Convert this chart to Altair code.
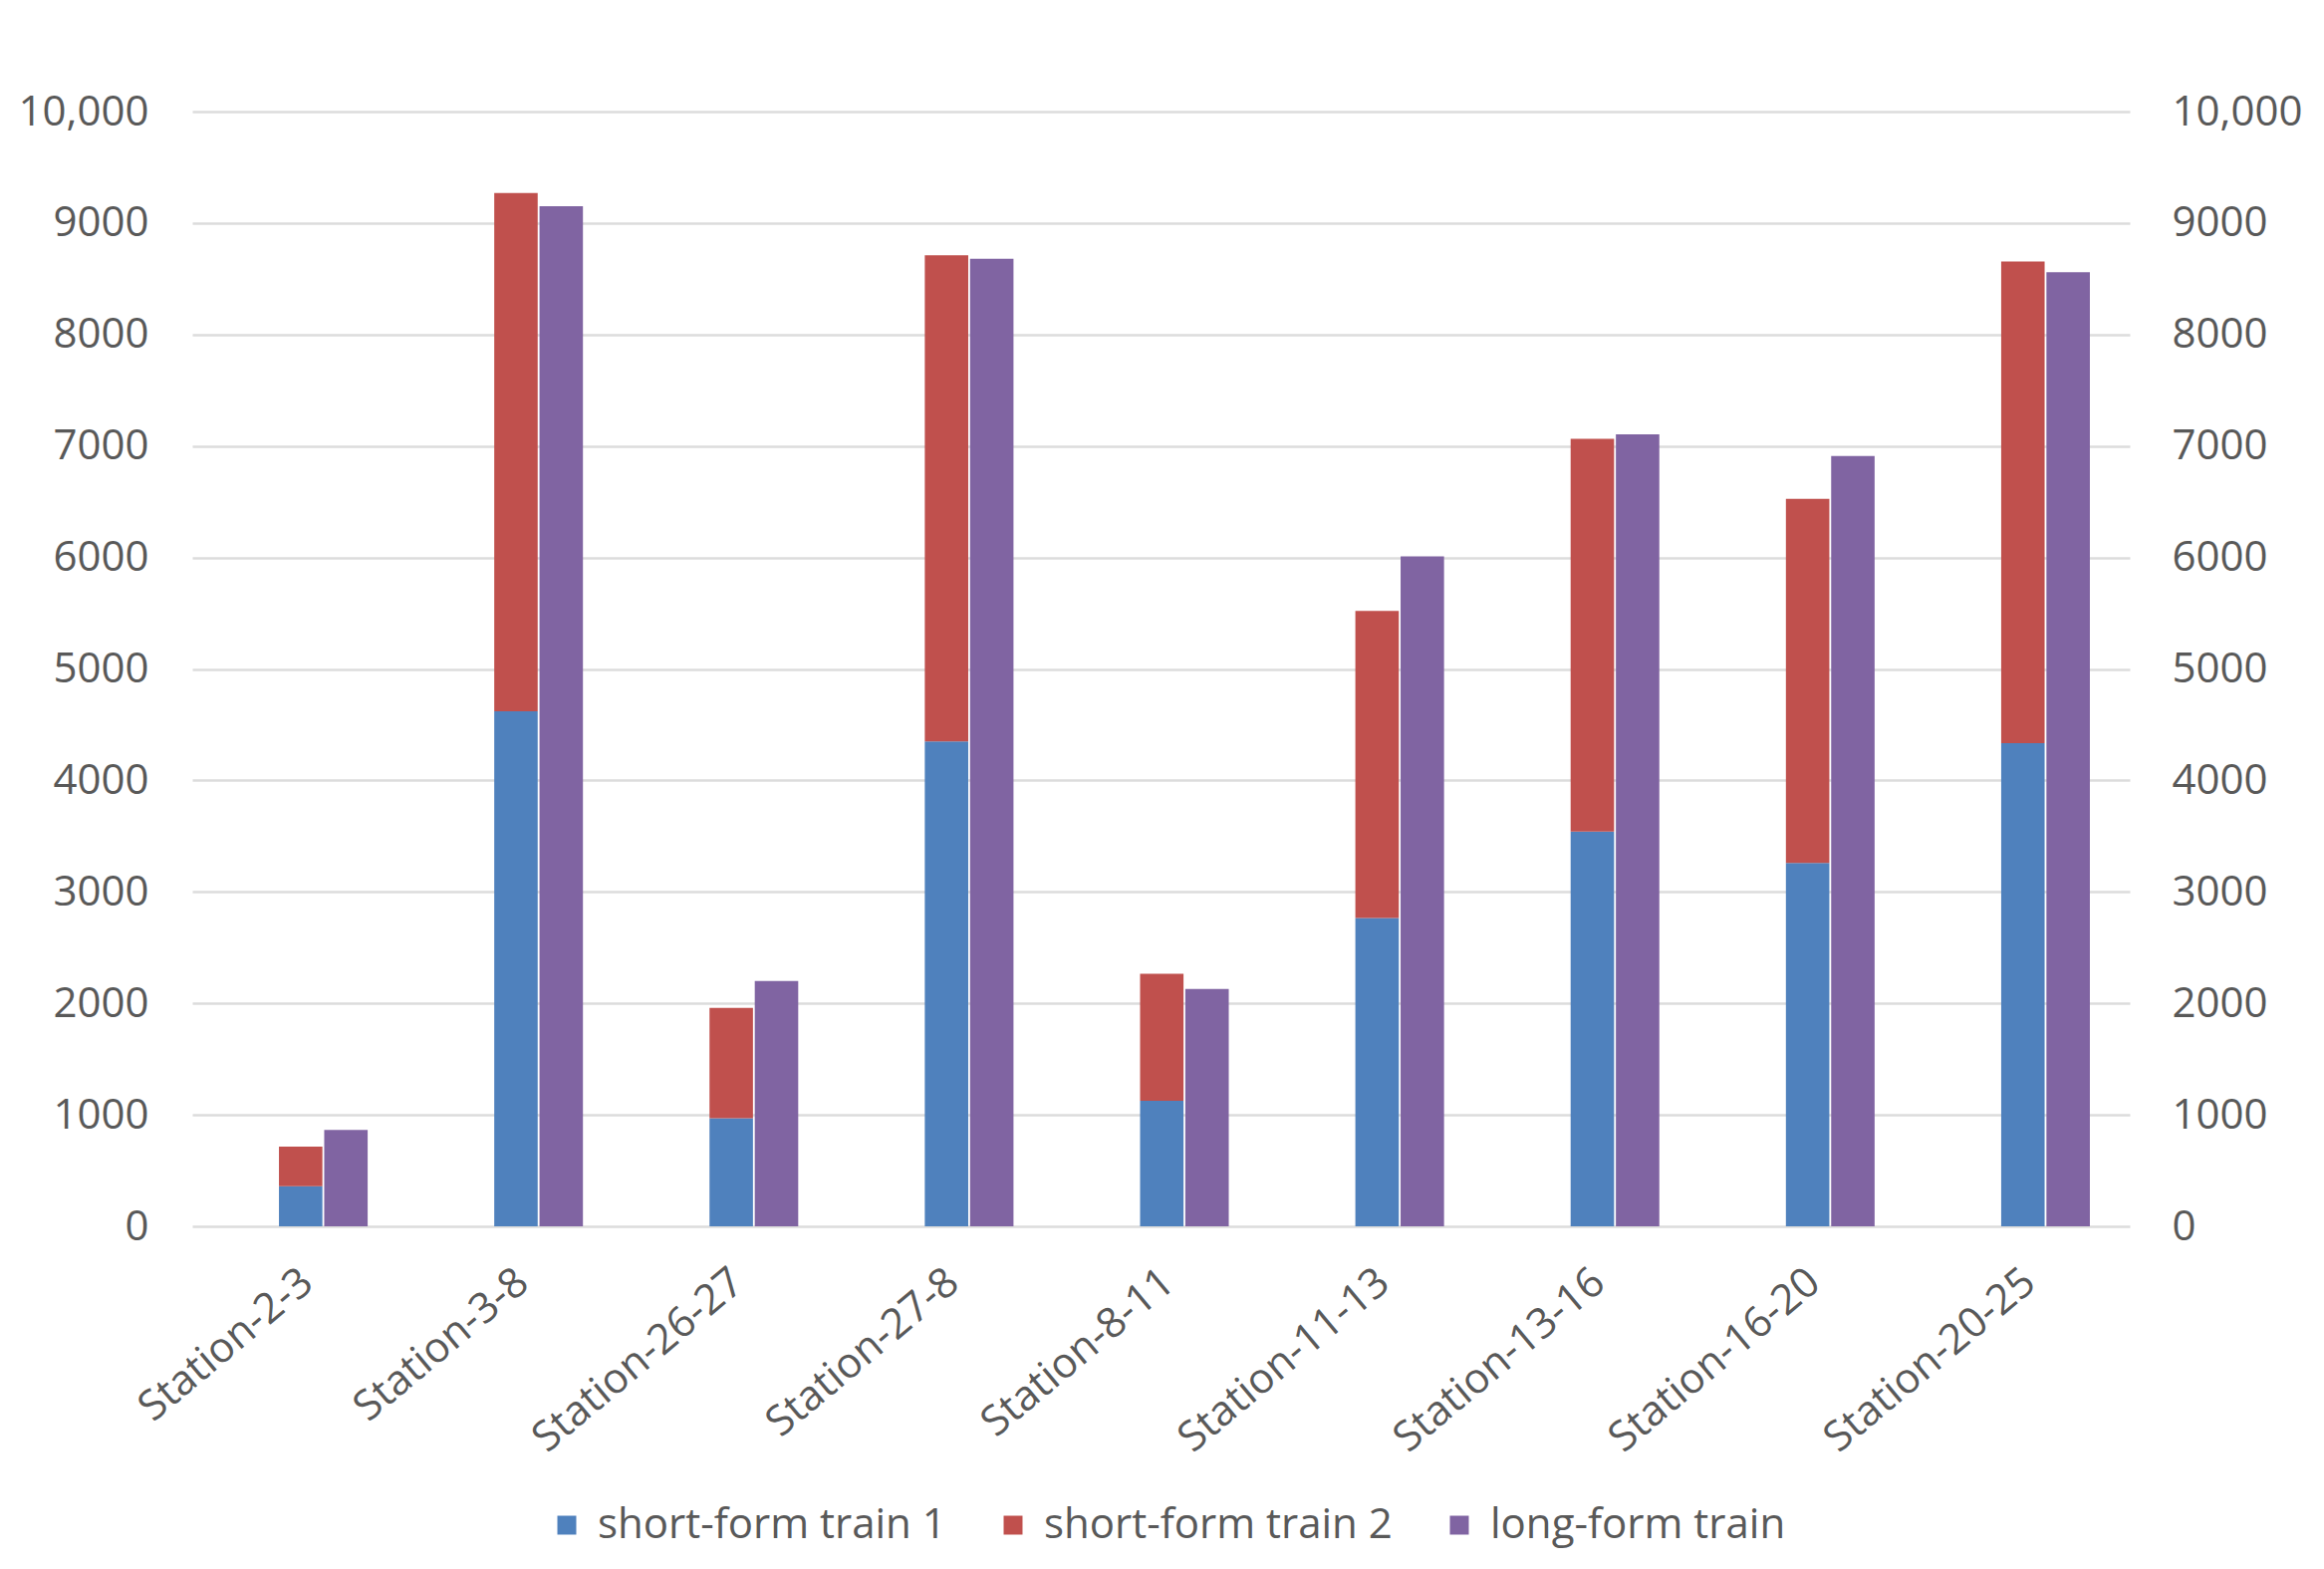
import altair as alt
import pandas as pd

stations = ["Station-2-3", "Station-3-8", "Station-26-27", "Station-27-8", "Station-8-11",
            "Station-11-13", "Station-13-16", "Station-16-20", "Station-20-25"]
short_train_1 = [360, 4620, 970, 4350, 1125, 2765, 3540, 3260, 4335]
short_train_2 = [355, 4650, 990, 4360, 1140, 2755, 3525, 3265, 4320]
long_train = [865, 9150, 2200, 8680, 2130, 6010, 7105, 6910, 8560]

series_names = ["short-form train 1", "short-form train 2", "long-form train"]
series_colors = ["#4f81bd", "#c0504d", "#8064a2"]
y_ticks = [0, 1000, 2000, 3000, 4000, 5000, 6000, 7000, 8000, 9000, 10000]

rows = []
for i, s in enumerate(stations):
    rows.append({"station": s, "series": series_names[0], "value": short_train_1[i], "grp": "short", "ord": 0})
    rows.append({"station": s, "series": series_names[1], "value": short_train_2[i], "grp": "short", "ord": 1})
    rows.append({"station": s, "series": series_names[2], "value": long_train[i], "grp": "long", "ord": 2})
df = pd.DataFrame(rows)

FONT = "Open Sans"
GRAY = "#595959"

x_enc = alt.X("station:N", sort=stations, title=None,
              scale=alt.Scale(paddingInner=0.588, paddingOuter=0.294, align=0.685),
              axis=alt.Axis(labelAngle=-40, labelAlign="right", labelBaseline="middle",
                            labelPadding=50, labelOffset=-16, labelLimit=0,
                            domain=False, ticks=False, grid=False,
                            labelFont=FONT, labelFontSize=42, labelColor=GRAY))
xo_enc = alt.XOffset("grp:N", sort=["short", "long"],
                     scale=alt.Scale(domain=["short", "long"], paddingInner=0.04, paddingOuter=0))
color_enc = alt.Color("series:N",
                      scale=alt.Scale(domain=series_names, range=series_colors),
                      legend=alt.Legend(title=None, orient="none", direction="horizontal",
                                        legendX=355, legendY=1398,
                                        symbolType="square", symbolSize=360, symbolStrokeWidth=0,
                                        labelFont=FONT, labelFontSize=42, labelColor=GRAY,
                                        labelLimit=0, labelOffset=10, columnPadding=46))

yscale = alt.Scale(domain=[0, 10000], nice=False)
label_expr = "datum.value == 10000 ? '10,000' : format(datum.value, 'd')"

short_layer = alt.Chart(df).transform_filter(alt.datum.grp == "short").mark_bar().encode(
    x=x_enc,
    xOffset=xo_enc,
    y=alt.Y("value:Q", stack="zero", scale=yscale, title=None,
            axis=alt.Axis(orient="left", values=y_ticks, labelExpr=label_expr,
                          domain=False, ticks=False, labelPadding=44,
                          grid=True, gridColor="#dcdcdc", gridWidth=2.5,
                          labelFont=FONT, labelFontSize=42, labelColor=GRAY)),
    color=color_enc,
    order=alt.Order("ord:Q", sort="ascending"),
)

long_layer = alt.Chart(df).transform_filter(alt.datum.grp == "long").mark_bar().encode(
    x=x_enc,
    xOffset=xo_enc,
    y=alt.Y("value:Q", scale=yscale, title=None,
            axis=alt.Axis(orient="right", values=y_ticks, labelExpr=label_expr,
                          domain=False, ticks=False, labelPadding=42, grid=False,
                          labelFont=FONT, labelFontSize=42, labelColor=GRAY)),
    color=alt.Color("series:N", scale=alt.Scale(domain=series_names, range=series_colors)),
)

chart = alt.layer(short_layer, long_layer).resolve_scale(y="independent").resolve_axis(
    y="independent"
).properties(
    width=1945,
    height=1119,
    autosize=alt.AutoSizeParams(type="none"),
    padding={"left": 185, "top": 104, "right": 187, "bottom": 336},
).configure(background="white").configure_view(strokeWidth=0)

chart.save("out.html", embed_options={"renderer": "svg", "actions": False})
